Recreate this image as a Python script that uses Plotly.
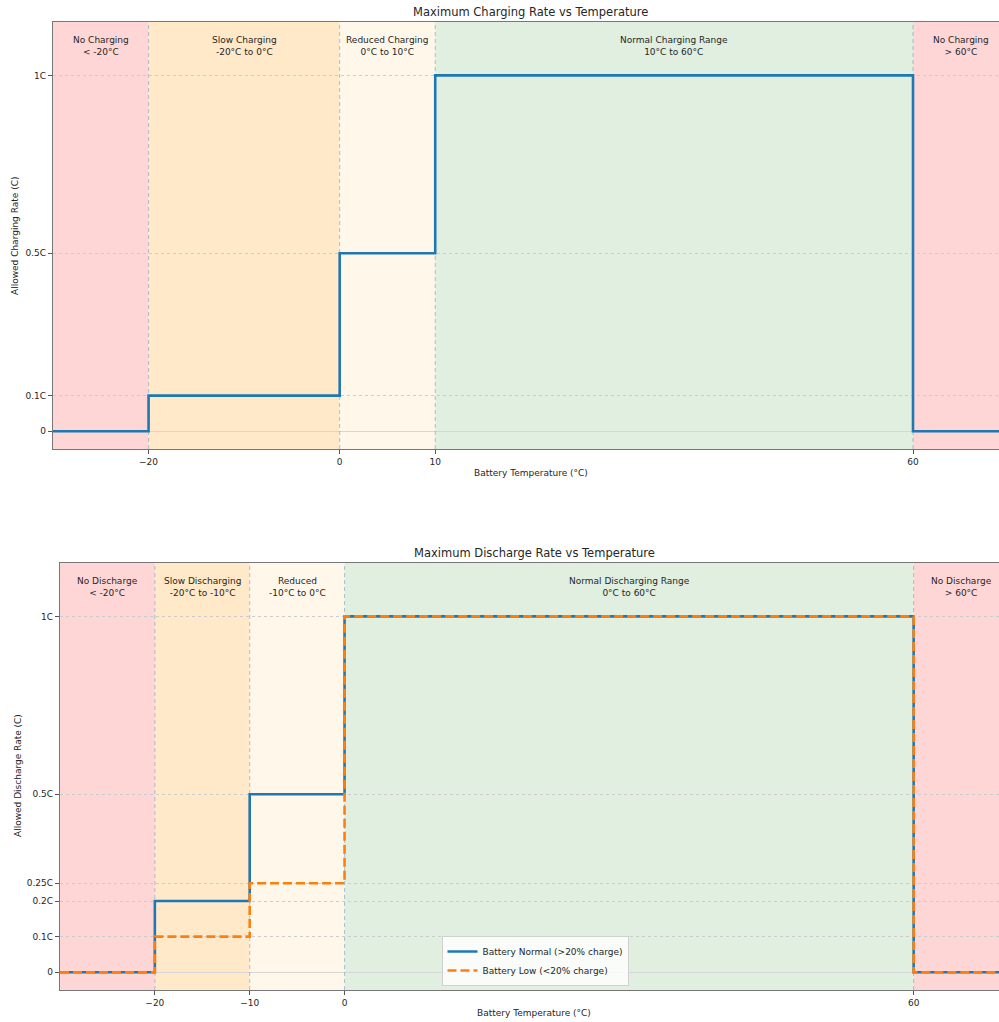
import plotly.graph_objects as go

# ---------------- data ----------------
charge_temps = [-30, -20, 0, 10, 60, 70]
charge_rates = [0, 0.1, 0.5, 1.0, 0, 0]

discharge_temps = [-30, -20, -10, 0, 60, 70]
discharge_normal = [0, 0.2, 0.5, 1.0, 0, 0]
discharge_low = [0, 0.1, 0.25, 1.0, 0, 0]

charge_xticks = [-20, 0, 10, 60]
discharge_xticks = [-20, -10, 0, 60]
charge_yticks = [0, 0.1, 0.5, 1.0]
charge_yticklabels = ["0", "0.1C", "0.5C", "1C"]
discharge_yticks = [0, 0.1, 0.2, 0.25, 0.5, 1.0]
discharge_yticklabels = ["0", "0.1C", "0.2C", "0.25C", "0.5C", "1C"]

charge_zones = [(-30, -20, "No Charging<br>&lt; -20°C", "red"),
                (-20, 0, "Slow Charging<br>-20°C to 0°C", "orange"),
                (0, 10, "Reduced Charging<br>0°C to 10°C", "yellow"),
                (10, 60, "Normal Charging Range<br>10°C to 60°C", "green"),
                (60, 70, "No Charging<br>&gt; 60°C", "red")]
discharge_zones = [(-30, -20, "No Discharge<br>&lt; -20°C", "red"),
                   (-20, -10, "Slow Discharging<br>-20°C to -10°C", "orange"),
                   (-10, 0, "Reduced<br>-10°C to 0°C", "yellow"),
                   (0, 60, "Normal Discharging Range<br>0°C to 60°C", "green"),
                   (60, 70, "No Discharge<br>&gt; 60°C", "red")]
charge_bounds = [-20, 0, 10, 60]
discharge_bounds = [-20, -10, 0, 60]
y_limits = [-0.05, 1.15]

zone_colors = {"red": "#ffd6d6", "orange": "#ffe9c8", "yellow": "#fff8ea", "green": "#e0efe0"}

W, H = 999, 1022
FONT = "DejaVu Sans"
TXT = "#262626"

fig = go.Figure()

shapes = []
annotations = []


def add_panel(xa, ya, zones, bounds):
    for x0, x1, label, c in zones:
        shapes.append(dict(type="rect", xref=xa, yref=f"{ya} domain", x0=x0, x1=x1, y0=0, y1=1,
                           fillcolor=zone_colors[c], line=dict(width=0), layer="below"))
        annotations.append(dict(x=(x0 + x1) / 2, xref=xa, y=0.975, yref=f"{ya} domain",
                                text=label, showarrow=False, yanchor="top", xanchor="center",
                                font=dict(family=FONT, size=9, color=TXT)))
    for b in bounds:
        fig.add_trace(go.Scatter(x=[b, b], y=y_limits, mode="lines", showlegend=False, hoverinfo="skip",
                                 line=dict(color="rgba(110,150,180,0.55)", width=1, dash="4px,3px"),
                                 xaxis=xa, yaxis=ya))


add_panel("x", "y", charge_zones, charge_bounds)
add_panel("x2", "y2", discharge_zones, discharge_bounds)

fig.add_trace(go.Scatter(x=charge_temps, y=charge_rates, mode="lines", line_shape="hv",
                         line=dict(color="#1f77b4", width=2.6), showlegend=False,
                         xaxis="x", yaxis="y"))
fig.add_trace(go.Scatter(x=discharge_temps, y=discharge_normal, mode="lines", line_shape="hv",
                         line=dict(color="#1f77b4", width=2.6), name="Battery Normal (>20% charge)",
                         xaxis="x2", yaxis="y2"))
fig.add_trace(go.Scatter(x=discharge_temps, y=discharge_low, mode="lines", line_shape="hv",
                         line=dict(color="#ff7f0e", width=2.6, dash="9px,4px"),
                         name="Battery Low (<20% charge)",
                         xaxis="x2", yaxis="y2"))


def text_ann(x, xref, y, txt, size, angle=0):
    annotations.append(dict(x=x, xref=xref, y=y, yref="paper", text=txt, textangle=angle,
                            xanchor="center", yanchor="middle", showarrow=False,
                            font=dict(family=FONT, size=size, color=TXT)))


# titles
text_ann(20, "x", 1 - 12 / H, "Maximum Charging Rate vs Temperature", 11.5)
text_ann(20, "x2", 1 - 553 / H, "Maximum Discharge Rate vs Temperature", 11.5)
# axis titles
text_ann(20, "x", 1 - 473 / H, "Battery Temperature (°C)", 9)
text_ann(20, "x2", 1 - 1013 / H, "Battery Temperature (°C)", 9)
text_ann(15 / W, "paper", 1 - 236 / H, "Allowed Charging Rate (C)", 9, -90)
text_ann(18 / W, "paper", 1 - 776 / H, "Allowed Discharge Rate (C)", 9, -90)

axis_common = dict(showgrid=False, zeroline=False, ticks="outside", ticklen=4, tickcolor="#555",
                   tickfont=dict(family=FONT, size=9, color=TXT), showline=True,
                   linecolor="#777", linewidth=1.3)
yaxis_common = dict(showgrid=True, gridcolor="#cccccc", griddash="dot", gridwidth=1,
                    zeroline=True, zerolinecolor="#d6d6d6", zerolinewidth=1,
                    ticks="outside", ticklen=4, tickcolor="#555",
                    tickfont=dict(family=FONT, size=9, color=TXT), showline=True,
                    linecolor="#777", linewidth=1.3, range=y_limits)

fig.update_layout(
    width=W, height=H,
    margin=dict(l=0, r=0, t=0, b=0),
    paper_bgcolor="white", plot_bgcolor="white",
    xaxis=dict(domain=[53 / W, 1], range=[-30, 69], tickvals=charge_xticks, anchor="y",
               mirror=True, **axis_common),
    yaxis=dict(domain=[1 - 449 / H, 1 - 22 / H], tickvals=charge_yticks, ticktext=charge_yticklabels,
               anchor="x", **yaxis_common),
    xaxis2=dict(domain=[60 / W, 1], range=[-30, 69], tickvals=discharge_xticks, anchor="y2",
                mirror=True, **axis_common),
    yaxis2=dict(domain=[1 - 990 / H, 1 - 563 / H], tickvals=discharge_yticks, ticktext=discharge_yticklabels,
                anchor="x2", **yaxis_common),
    shapes=shapes,
    annotations=annotations,
    showlegend=True,
    legend=dict(x=535 / W, xanchor="center", y=1 - 986 / H, yanchor="bottom",
                bgcolor="rgba(255,255,255,0.8)", bordercolor="#d0d0d0", borderwidth=1,
                font=dict(family=FONT, size=9, color=TXT), tracegroupgap=0,
                itemwidth=30),
)

fig.write_html("out.html", config={"displayModeBar": False},
               post_script="document.body.style.margin='0';")
